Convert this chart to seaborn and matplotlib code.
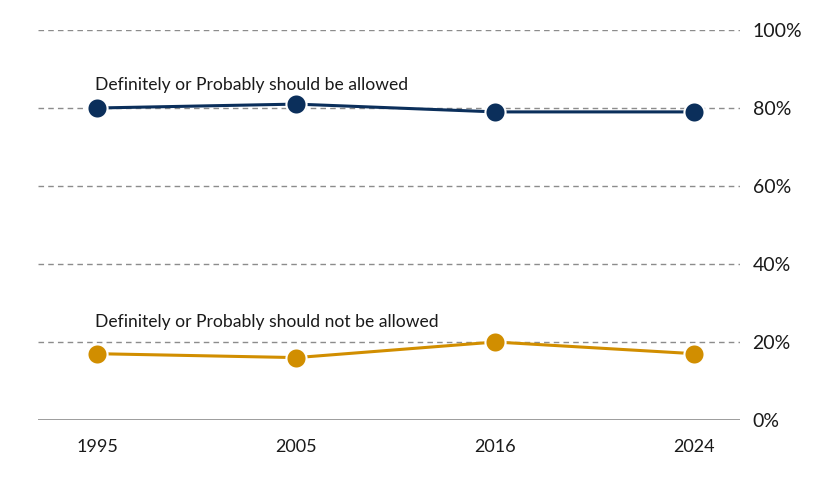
import matplotlib
matplotlib.use('Agg')
import matplotlib.pyplot as plt
import pandas as pd
import seaborn as sns

years = ['1995', '2005', '2016', '2024']
allowed = [80, 81, 79, 79]
not_allowed = [17, 16, 20, 17]
series_names = ['Definitely or Probably should be allowed',
                'Definitely or Probably should not be allowed']
y_ticks = [0, 20, 40, 60, 80, 100]

navy = '#0b2f5b'
gold = '#d18e00'

sns.set_style('white')
plt.rcParams['font.family'] = ['Lato', 'DejaVu Sans']

df = pd.DataFrame({
    'year': years * 2,
    'pct': allowed + not_allowed,
    'series': [series_names[0]] * 4 + [series_names[1]] * 4,
})

fig = plt.figure(figsize=(8.4, 4.8), dpi=100)
ax = fig.add_axes([0.045, 0.125, 0.836, 0.8125])

# grid lines
for t in y_ticks[1:]:
    ax.axhline(t, color='#8c8c8c', lw=1, ls=(0, (4, 3)), zorder=0)
ax.axhline(0, color='#8c8c8c', lw=1.2, zorder=0)

sns.lineplot(data=df, x='year', y='pct', hue='series',
             palette=[navy, gold], marker='o', markersize=14.5,
             markeredgecolor='white', markeredgewidth=1.5,
             linewidth=2.2, legend=False, ax=ax, zorder=3)

ax.set_xlim(-0.30, 3.23)
ax.set_ylim(0, 100)
ax.yaxis.tick_right()
ax.set_yticks(y_ticks)
ax.set_yticklabels([f'{t}%' for t in y_ticks])
ax.tick_params(axis='y', length=0, pad=9, labelsize=14, labelcolor='#1a1a1a')
ax.tick_params(axis='x', length=0, pad=14, labelsize=13, labelcolor='#1a1a1a')
ax.set_xlabel('')
ax.set_ylabel('')
for s in ax.spines.values():
    s.set_visible(False)

ax.text(-0.01, 86, series_names[0], fontsize=12.6, color='#1a1a1a',
        ha='left', va='center')
ax.text(-0.01, 25, series_names[1], fontsize=12.6, color='#1a1a1a',
        ha='left', va='center')

fig.savefig('out.png', dpi=100)
